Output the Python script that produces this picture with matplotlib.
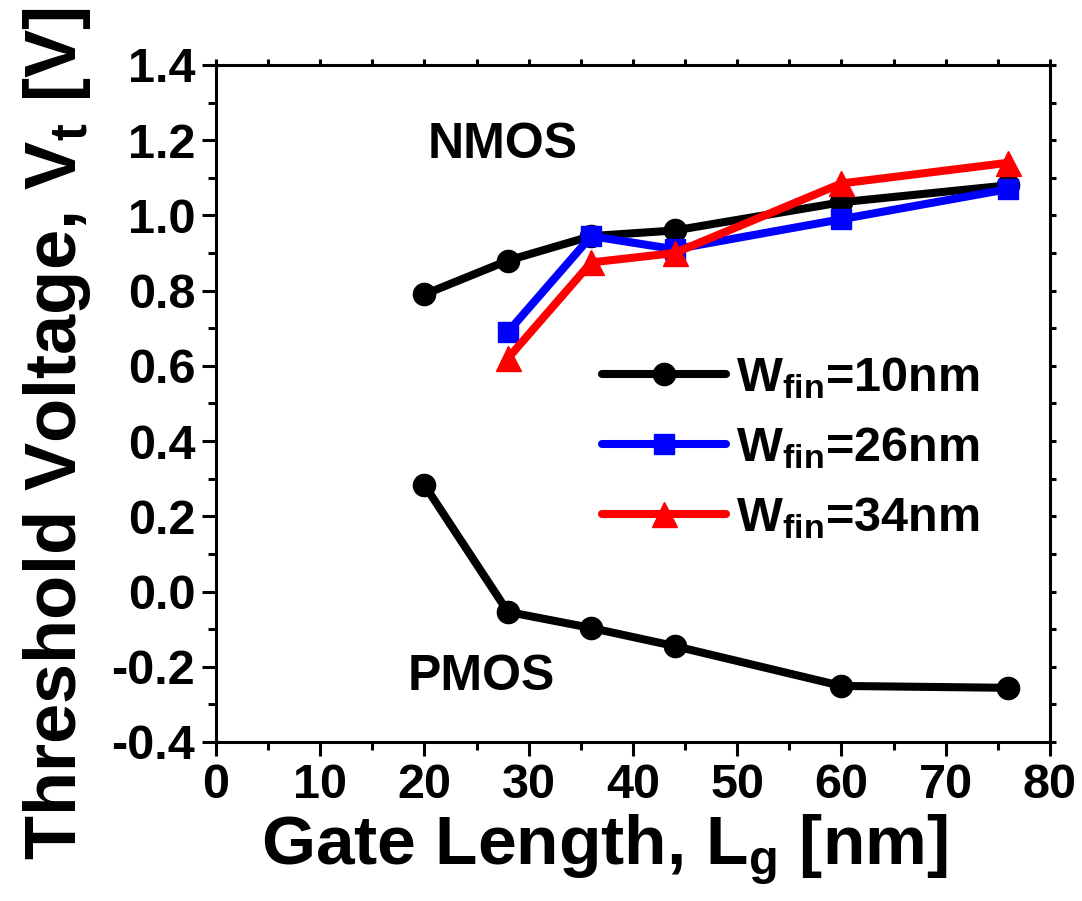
import matplotlib
matplotlib.use("Agg")
import matplotlib.pyplot as plt
from matplotlib.ticker import MultipleLocator, FormatStrFormatter

plt.rcParams['font.family'] = ['Liberation Sans', 'DejaVu Sans']
plt.rcParams['font.weight'] = 'bold'
plt.rcParams['mathtext.fontset'] = 'custom'
plt.rcParams['mathtext.rm'] = 'Liberation Sans:bold'
plt.rcParams['mathtext.bf'] = 'Liberation Sans:bold'
plt.rcParams['mathtext.it'] = 'Liberation Sans:bold'

# gate length [nm]
lg_10 = [20, 28, 36, 44, 60, 76]
lg_26 = [28, 36, 44, 60, 76]
lg_34 = [28, 36, 44, 60, 76]

# threshold voltage [V]
vt_nmos_10 = [0.79, 0.88, 0.945, 0.96, 1.035, 1.08]
vt_nmos_26 = [0.69, 0.945, 0.91, 0.99, 1.07]
vt_nmos_34 = [0.62, 0.875, 0.90, 1.085, 1.14]
vt_pmos_10 = [0.283, -0.054, -0.097, -0.145, -0.251, -0.256]

labels = [r'W$_{\mathrm{fin}}$=10nm', r'W$_{\mathrm{fin}}$=26nm', r'W$_{\mathrm{fin}}$=34nm']

fig = plt.figure(figsize=(10.82, 9.01), dpi=100)
ax = fig.add_axes([0.1996, 0.1765, 0.7708, 0.7514])

lw = 5.8
l1, = ax.plot(lg_10, vt_nmos_10, color='black', lw=lw, marker='o', ms=16,
              solid_capstyle='round', label=labels[0])
ax.plot(lg_10, vt_pmos_10, color='black', lw=lw, marker='o', ms=16,
        solid_capstyle='round')
l2, = ax.plot(lg_26, vt_nmos_26, color='#0000ff', lw=lw, marker='s', ms=14,
              solid_capstyle='round', label=labels[1])
l3, = ax.plot(lg_34, vt_nmos_34, color='#ff0000', lw=lw, marker='^', ms=18,
              solid_capstyle='round', label=labels[2])

ax.text(27.5, 1.187, 'NMOS', fontsize=36, fontweight='bold', ha='center', va='center')
ax.text(25.5, -0.227, 'PMOS', fontsize=36, fontweight='bold', ha='center', va='center')

ax.set_xlim(0, 80)
ax.set_ylim(-0.4, 1.4)
ax.xaxis.set_major_locator(MultipleLocator(10))
ax.xaxis.set_minor_locator(MultipleLocator(5))
ax.yaxis.set_major_locator(MultipleLocator(0.2))
ax.yaxis.set_minor_locator(MultipleLocator(0.1))
ax.yaxis.set_major_formatter(FormatStrFormatter('%.1f'))

for s in ax.spines.values():
    s.set_linewidth(2.2)

ax.tick_params(which='major', direction='out', length=10, width=2.2,
               labelsize=35, pad=5)
ax.tick_params(which='minor', direction='out', length=6, width=2.2)
ax.tick_params(which='both', top=True, right=True, labeltop=False, labelright=False)
for t in ax.xaxis.get_major_ticks() + ax.xaxis.get_minor_ticks():
    t.tick2line.set_markersize(4)
for t in ax.yaxis.get_major_ticks() + ax.yaxis.get_minor_ticks():
    t.tick2line.set_markersize(4)

for lab in ax.get_xticklabels() + ax.get_yticklabels():
    lab.set_fontweight('bold')

ax.set_xlabel(r'Gate Length, L$_{\mathrm{g}}$ [nm]', fontsize=50, fontweight='bold')
ax.set_ylabel(r'Threshold Voltage, V$_{\mathrm{t}}$ [V]', fontsize=52, fontweight='bold')
ax.xaxis.set_label_coords(0.466, -0.103)
ax.yaxis.set_label_coords(-0.148, 0.455)

ax.legend(handles=[l1, l2, l3], loc='upper left', bbox_to_anchor=(0.44, 0.6),
          frameon=False, fontsize=35, handlelength=2.55, handletextpad=0.2,
          labelspacing=0.5, borderaxespad=0)

fig.savefig('out.png', dpi=100)
